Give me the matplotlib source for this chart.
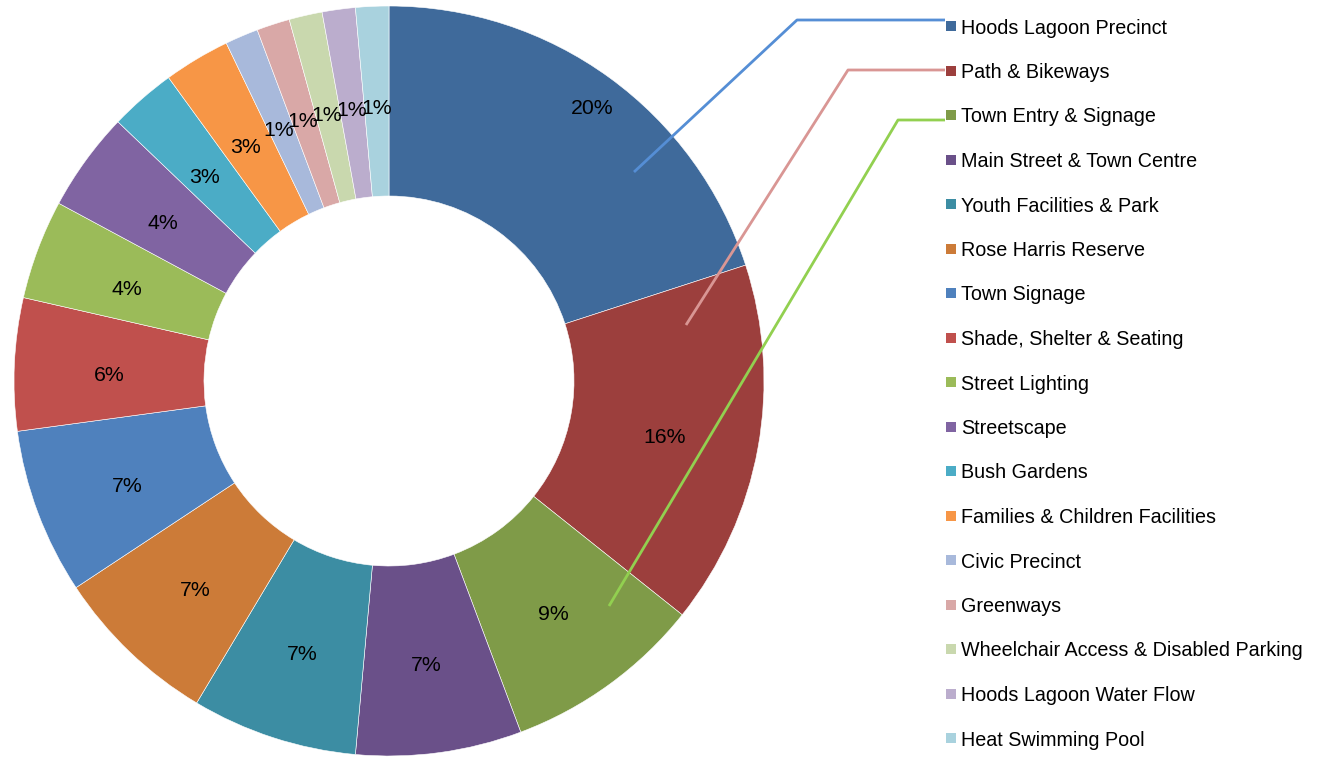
import numpy as np
import matplotlib
matplotlib.use("Agg")
import matplotlib.pyplot as plt

plt.rcParams["font.family"] = ["Liberation Sans", "DejaVu Sans"]

categories = [
    "Hoods Lagoon Precinct", "Path & Bikeways", "Town Entry & Signage",
    "Main Street & Town Centre", "Youth Facilities & Park", "Rose Harris Reserve",
    "Town Signage", "Shade, Shelter & Seating", "Street Lighting", "Streetscape",
    "Bush Gardens", "Families & Children Facilities", "Civic Precinct", "Greenways",
    "Wheelchair Access & Disabled Parking", "Hoods Lagoon Water Flow",
    "Heat Swimming Pool",
]
counts = [14, 11, 6, 5, 5, 5, 5, 4, 3, 3, 2, 2, 1, 1, 1, 1, 1]
colors = [
    "#3F6A9B", "#9C3F3D", "#7F9B48", "#6A5089", "#3C8DA3", "#CC7B38",
    "#4F81BD", "#C0504D", "#9BBB59", "#8064A2", "#4BACC6", "#F79646",
    "#A8B9DB", "#D9A8A7", "#C9D8AE", "#BBADCD", "#A9D2DE",
]

W, H = 1325, 760
fig = plt.figure(figsize=(W / 100, H / 100), dpi=100)
ax = fig.add_axes([0, 0, 1, 1])

cx, cy, R = 389, H - 381, 375
wedges, _ = ax.pie(counts, colors=colors, startangle=90, counterclock=False,
                   radius=R, center=(cx, cy),
                   wedgeprops=dict(width=190, edgecolor="white", linewidth=0.4))

total = sum(counts)
for i, w in enumerate(wedges):
    mid = np.deg2rad((w.theta1 + w.theta2) / 2)
    r = 345 if i == 0 else 280
    pct = "%d%%" % round(100 * counts[i] / total)
    # labels sit a few px lower than the ring midpoint in the original
    ax.text(cx + r * np.cos(mid), cy + r * np.sin(mid) - 7, pct,
            ha="center", va="center", fontsize=15.3, color="black")

# leader lines
leaders = [
    ([634, 797, 945], [172, 20, 20], "#558ED5"),
    ([686, 848, 945], [325, 70, 70], "#D99694"),
    ([609, 898, 945], [606, 120, 120], "#92D050"),
]
for xs, ys, c in leaders:
    ax.plot(xs, [H - y for y in ys], color=c, lw=2, solid_capstyle="butt")

# legend
for i, name in enumerate(categories):
    y = H - (26 + i * 44.5)
    ax.scatter([951], [y], marker="s", s=50, color=colors[i], linewidths=0)
    ax.text(961, y - 2, name, ha="left", va="center", fontsize=14.2, color="black")

ax.set_xlim(0, W)
ax.set_ylim(0, H)
ax.set_aspect("auto")
ax.axis("off")

fig.savefig("out.png", dpi=100)
